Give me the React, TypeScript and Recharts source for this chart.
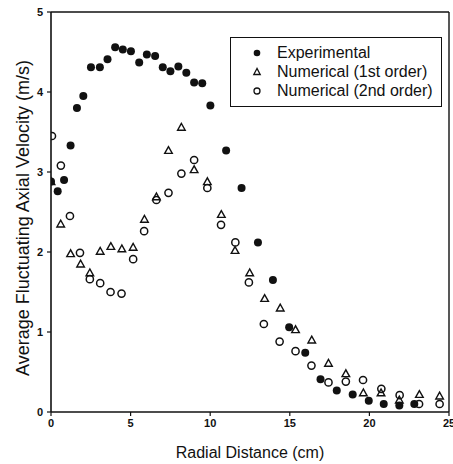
import React from 'react';
import {
  ScatterChart,
  Scatter,
  XAxis,
  YAxis,
  Legend,
  ReferenceLine,
} from 'recharts';

// Radial positions (cm) and fluctuating axial velocity (m/s) for each series
const experimentalX = [0, 0.42, 0.82, 1.23, 1.63, 2.03, 2.51, 3.07, 3.55, 4.03, 4.51, 5.02, 5.54, 6.02, 6.54, 7.02, 7.5, 8.0, 8.5, 8.99, 9.5, 10.01, 11.0, 11.97, 13.0, 13.94, 14.96, 15.97, 16.93, 17.95, 18.95, 19.96, 20.9, 21.88, 22.82];
const experimentalY = [2.88, 2.76, 2.9, 3.33, 3.8, 3.95, 4.31, 4.31, 4.41, 4.56, 4.53, 4.51, 4.37, 4.47, 4.45, 4.31, 4.26, 4.32, 4.24, 4.12, 4.11, 3.83, 3.27, 2.8, 2.12, 1.65, 1.06, 0.74, 0.41, 0.27, 0.22, 0.14, 0.1, 0.08, 0.1];

const firstOrderX = [0, 0.61, 1.23, 1.86, 2.44, 3.09, 3.76, 4.45, 5.16, 5.87, 6.62, 7.38, 8.19, 8.99, 9.82, 10.7, 11.56, 12.48, 13.42, 14.4, 15.36, 16.38, 17.43, 18.52, 19.62, 20.73, 21.88, 23.14, 24.41];
const firstOrderY = [2.88, 2.35, 1.98, 1.85, 1.74, 2.01, 2.07, 2.04, 2.06, 2.41, 2.69, 3.27, 3.56, 3.03, 2.88, 2.47, 2.02, 1.74, 1.42, 1.3, 1.03, 0.9, 0.61, 0.48, 0.24, 0.24, 0.15, 0.22, 0.2];

const secondOrderX = [0.06, 0.62, 1.19, 1.82, 2.44, 3.09, 3.74, 4.43, 5.16, 5.85, 6.62, 7.38, 8.19, 8.99, 9.82, 10.68, 11.58, 12.43, 13.37, 14.36, 15.36, 16.36, 17.43, 18.52, 19.6, 20.75, 21.9, 23.12, 24.41];
const secondOrderY = [3.45, 3.08, 2.45, 1.99, 1.66, 1.61, 1.5, 1.48, 1.91, 2.26, 2.65, 2.74, 2.98, 3.15, 2.8, 2.34, 2.12, 1.62, 1.1, 0.88, 0.76, 0.58, 0.37, 0.38, 0.4, 0.29, 0.21, 0.1, 0.1];

const xTicks = [0, 5, 10, 15, 20, 25];
const yTicks = [0, 1, 2, 3, 4, 5];

const seriesNames = ['Experimental', 'Numerical (1st order)', 'Numerical (2nd order)'];

const toPoints = (xs: number[], ys: number[]) => xs.map((x, i) => ({ x, y: ys[i] }));

const experimental = toPoints(experimentalX, experimentalY);
const firstOrder = toPoints(firstOrderX, firstOrderY);
const secondOrder = toPoints(secondOrderX, secondOrderY);

const FONT = '"Liberation Sans", Arial, sans-serif';
const INK = '#111';

const FilledDot = (props: any) => (
  <circle cx={props.cx} cy={props.cy} r={4} fill={INK} />
);

const OpenDot = (props: any) => (
  <circle cx={props.cx} cy={props.cy} r={3.6} fill="none" stroke={INK} strokeWidth={1.5} />
);

const OpenTriangle = (props: any) => {
  const { cx, cy } = props;
  const pts = `${cx},${cy - 3.8} ${cx - 3.8},${cy + 3} ${cx + 3.8},${cy + 3}`;
  return <polygon points={pts} fill="none" stroke={INK} strokeWidth={1.4} strokeLinejoin="miter" />;
};

const legendSymbol = (name: string) => {
  if (name === seriesNames[0]) return <circle cx={6} cy={6} r={3.3} fill={INK} />;
  if (name === seriesNames[1])
    return <polygon points="6,2.5 2.8,8.5 9.2,8.5" fill="none" stroke={INK} strokeWidth={1.3} />;
  return <circle cx={6} cy={6} r={3} fill="none" stroke={INK} strokeWidth={1.3} />;
};

const LegendBox = (props: any) => {
  const { payload = [] } = props;
  return (
    <div
      style={{
        boxSizing: 'border-box',
        width: 212,
        height: 70,
        border: `1.5px solid ${INK}`,
        background: '#fff',
        padding: '6px 0 0 20px',
        fontFamily: FONT,
        fontSize: 16,
        color: INK,
      }}
    >
      {payload.map((entry: any) => (
        <div key={entry.value} style={{ display: 'flex', alignItems: 'center', height: 18.7 }}>
          <svg width={12} height={12} style={{ marginRight: 14 }}>
            {legendSymbol(entry.value)}
          </svg>
          <span style={{ whiteSpace: 'nowrap', lineHeight: '16px' }}>{entry.value}</span>
        </div>
      ))}
    </div>
  );
};

const YTitle = (props: any) => {
  const vb = props.viewBox || { x: 0, y: 0, width: 0, height: 0 };
  const cx = 23;
  const cy = vb.y + vb.height / 2 + 6;
  return (
    <text
      x={cx}
      y={cy}
      transform={`rotate(-90, ${cx}, ${cy})`}
      textAnchor="middle"
      dominantBaseline="central"
      fontFamily={FONT}
      fontSize={18}
      fill={INK}
    >
      Average Fluctuating Axial Velocity (m/s)
    </text>
  );
};

const tickStyle = { fontFamily: FONT, fontSize: 11, fontWeight: 700, fill: INK };

export default function App() {
  return (
    <div style={{ position: 'absolute', left: 0, top: 0, width: 453, height: 464, background: '#fff' }}>
      <ScatterChart
        width={453}
        height={464}
        margin={{ top: 12, right: 4, bottom: 0, left: 0 }}
      >
        <XAxis
          type="number"
          dataKey="x"
          domain={[0, 25]}
          ticks={xTicks}
          interval={0}
          allowDataOverflow
          height={52}
          tickSize={4}
          tickMargin={3}
          tick={tickStyle}
          axisLine={{ stroke: INK, strokeWidth: 1.6 }}
          tickLine={{ stroke: INK, strokeWidth: 1.2 }}
          label={{
            value: 'Radial Distance (cm)',
            position: 'insideBottom',
            offset: 6,
            style: { fontFamily: FONT, fontSize: 16, fill: INK },
          }}
        />
        <YAxis
          type="number"
          dataKey="y"
          domain={[0, 5]}
          ticks={yTicks}
          interval={0}
          allowDataOverflow
          width={51}
          tickSize={4}
          tickMargin={4}
          tick={tickStyle}
          axisLine={{ stroke: INK, strokeWidth: 1.6 }}
          tickLine={{ stroke: INK, strokeWidth: 1.2 }}
          label={{ content: YTitle }}
        />
        <ReferenceLine y={5} stroke={INK} strokeWidth={1.4} ifOverflow="visible" />
        <ReferenceLine x={25} stroke={INK} strokeWidth={1.4} ifOverflow="visible" />
        <Legend
          layout="horizontal"
          align="center"
          verticalAlign="middle"
          content={LegendBox}
          wrapperStyle={{ position: 'absolute', left: 230, top: 37, width: 212, height: 70, right: 'auto', bottom: 'auto' }}
        />
        <Scatter
          name={seriesNames[0]}
          data={experimental}
          fill={INK}
          shape={FilledDot}
          isAnimationActive={false}
        />
        <Scatter
          name={seriesNames[1]}
          data={firstOrder}
          fill={INK}
          shape={OpenTriangle}
          isAnimationActive={false}
        />
        <Scatter
          name={seriesNames[2]}
          data={secondOrder}
          fill={INK}
          shape={OpenDot}
          isAnimationActive={false}
        />
      </ScatterChart>
    </div>
  );
}
